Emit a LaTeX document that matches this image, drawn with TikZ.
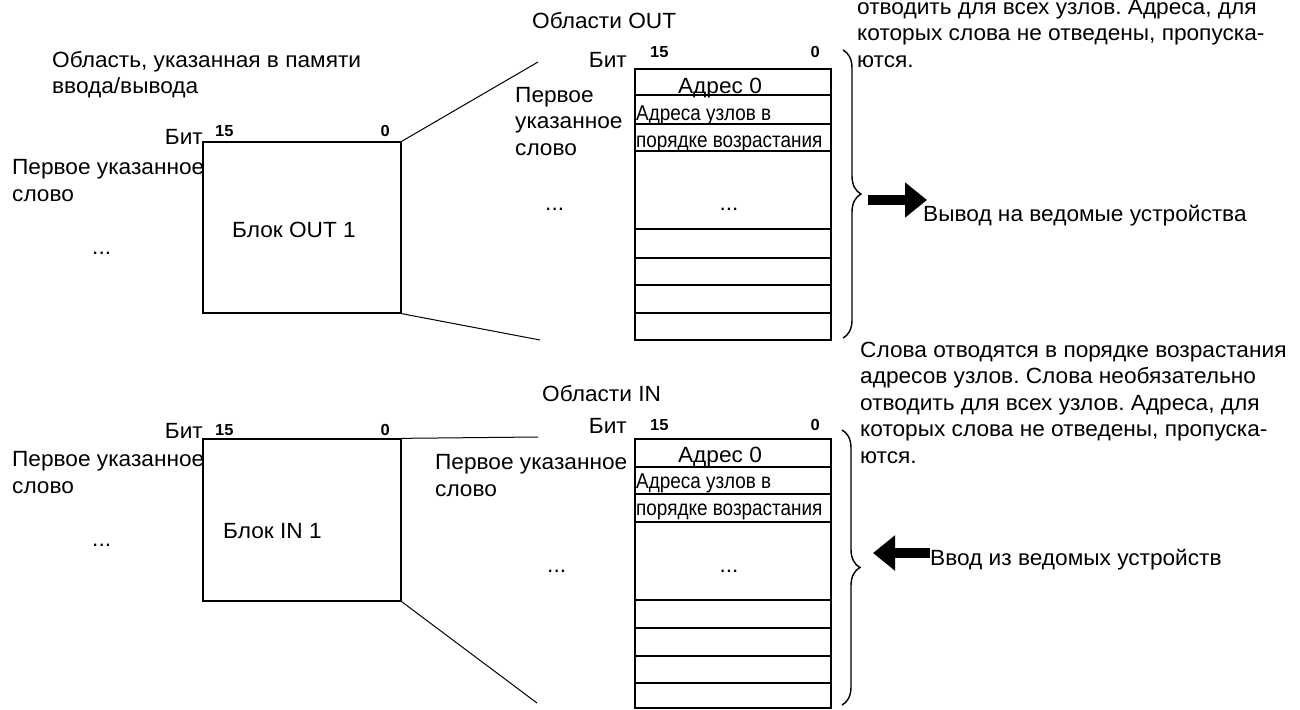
\documentclass[tikz,border=0pt]{standalone}
\usepackage{fontspec}
\setmainfont[FakeStretch=1.03]{Liberation Sans}
\newfontfamily\narrowfont[FakeStretch=0.88]{Liberation Sans}
\usetikzlibrary{arrows.meta,decorations.pathreplacing}
\newcommand{\txtsz}{\frenchspacing\fontsize{22}{26.5}\selectfont}
\newcommand{\nrwsz}{\frenchspacing\narrowfont\fontsize{21.5}{26.5}\selectfont}
\newcommand{\bitsz}{\bfseries\fontsize{16}{16}\selectfont}

\begin{document}
\begin{tikzpicture}[x=1pt,y=-1pt,
  txt/.style={font=\txtsz, inner sep=0pt, align=left},
  nrw/.style={font=\nrwsz, inner sep=0pt, align=left},
  bitno/.style={font=\bitsz, inner sep=0pt},
  blk/.style={draw, line width=1.3pt, minimum width=198pt, inner sep=0pt},
  fan/.style={line width=1pt},
  rowln/.style={line width=1.2pt},
  brc/.style={decorate, decoration={brace, amplitude=18pt}, line width=1.4pt},
  fat/.style={line width=10pt, -{Triangle[length=22pt,width=34pt]}}]
\useasboundingbox (0,0) rectangle (1300,709);
\node[blk, minimum height=171pt] (outblk) at (302,227.5) {};
\node[txt, anchor=base west] (outarea) at (52,93.5) {Область, указанная в памяти\\ввода/вывода};
\node[txt, anchor=base east] (outbit) at (203,144) {Бит};
\node[bitno, anchor=base west] (out15) at (215,136) {15};
\node[bitno, anchor=base east] (out0) at (390,136) {0};
\node[txt, anchor=base west] (outfirst) at (12,201) {Первое указанное\\слово};
\node[txt, anchor=base west] (outdots) at (92,254) {...};
\node[txt, anchor=base] (outlbl) at (294,237) {Блок OUT 1};
\draw[rowln] (635,69) rectangle (831,340);
\foreach \r in {95,124,151,229,258,285,313}
  \draw[rowln] (635,\r) -- (831,\r);
\node[txt, anchor=base west] (outtitle) at (532,29) {Области OUT};
\node[txt, anchor=base east] (outbitb) at (627,67) {Бит};
\node[bitno, anchor=base west] (out15b) at (650,58) {15};
\node[bitno, anchor=base east] (out0b) at (820,58) {0};
\node[txt, anchor=base] (outaddr) at (720,93) {Адрес 0};
\node[nrw, anchor=base west] (outnodes) at (636,147) {Адреса узлов в\\порядке возрастания};
\node[txt, anchor=base west] (outfirstb) at (515,155) {Первое\\указанное\\слово};
\node[txt, anchor=base west] (outdotsb) at (545,210) {...};
\node[txt, anchor=base] (outdotsc) at (729,210) {...};
\node[txt, anchor=base west] (outnote) at (857,67) {отводить для всех узлов. Адреса, для\\которых слова не отведены, пропуска-\\ются.};
\node[txt, anchor=base west] (outdev) at (923,221) {Вывод на ведомые устройства};
\coordinate (outfanA) at (538,62);
\coordinate (outfanB) at (540,340);
\draw[fan] (outblk.north east) -- (outfanA);
\draw[fan] (outblk.south east) -- (outfanB);
\draw[brc] (843,50) -- (843,338);
\coordinate (outtail) at (868,200);
\coordinate (outtip) at (927,200);
\draw[fat] (outtail) -- (outtip);
\node[blk, minimum height=162pt] (inblk) at (302,520) {};
\node[txt, anchor=base east] (inbit) at (203,438) {Бит};
\node[bitno, anchor=base west] (in15) at (215,435) {15};
\node[bitno, anchor=base east] (in0) at (390,435) {0};
\node[txt, anchor=base west] (infirst) at (12,493) {Первое указанное\\слово};
\node[txt, anchor=base west] (indots) at (92,546) {...};
\node[txt, anchor=base west] (inlbl) at (223,538) {Блок IN 1};
\draw[rowln] (635,439) rectangle (831,708);
\foreach \r in {467,494,522,600,628,656,683}
  \draw[rowln] (635,\r) -- (831,\r);
\node[txt, anchor=base west] (intitle) at (542,401) {Области IN};
\node[txt, anchor=base east] (inbitb) at (627,433) {Бит};
\node[bitno, anchor=base west] (in15b) at (650,430) {15};
\node[bitno, anchor=base east] (in0b) at (820,430) {0};
\node[txt, anchor=base] (inaddr) at (720,462) {Адрес 0};
\node[nrw, anchor=base west] (innodes) at (636,515) {Адреса узлов в\\порядке возрастания};
\node[txt, anchor=base west] (infirstb) at (435,496) {Первое указанное\\слово};
\node[txt, anchor=base west] (indotsb) at (547,572) {...};
\node[txt, anchor=base] (indotsc) at (729,572) {...};
\node[txt, anchor=base west] (innote) at (860,463) {Слова отводятся в порядке возрастания\\адресов узлов. Слова необязательно\\отводить для всех узлов. Адреса, для\\которых слова не отведены, пропуска-\\ются.};
\node[txt, anchor=base west] (indev) at (930,565) {Ввод из ведомых устройств};
\coordinate (infanA) at (538,437);
\coordinate (infanB) at (537,703);
\draw[fan] (inblk.north east) -- (infanA);
\draw[fan] (inblk.south east) -- (infanB);
\draw[brc] (842,430) -- (842,705);
\coordinate (intail) at (930,553);
\coordinate (intip) at (873,553);
\draw[fat] (intail) -- (intip);
\end{tikzpicture}
\end{document}
